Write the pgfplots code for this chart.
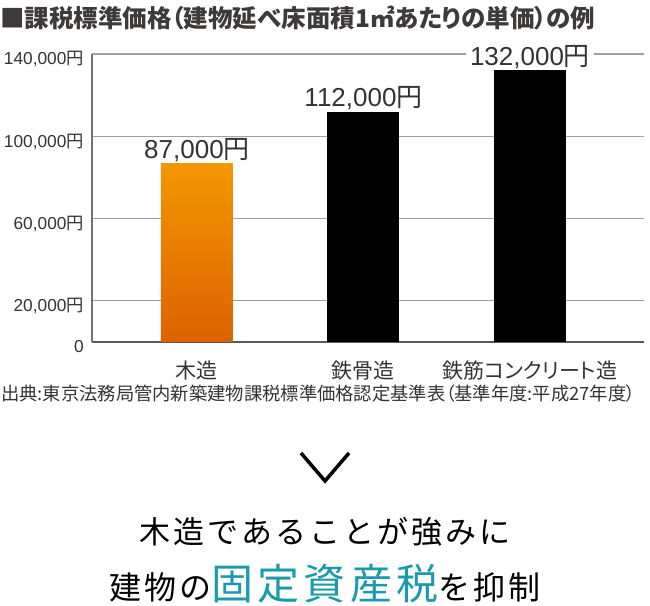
\documentclass[border=0pt]{standalone}
\usepackage{pgfplots}
\pgfplotsset{compat=1.18}
\usepackage{fontspec}
\setmainfont{Liberation Sans}
\newfontfamily\cjk{Noto Sans CJK JP}
\newfontfamily\cjkp{Noto Sans CJK JP}[RawFeature=+palt]
\newfontfamily\cjkls{Noto Sans CJK JP}[LetterSpace=10]

\definecolor{txt}{HTML}{333333}
\definecolor{ttl}{HTML}{3E3A39}
\definecolor{gridc}{HTML}{A0A0A0}
\definecolor{orgtop}{HTML}{F39800}
\definecolor{orgbot}{HTML}{DC6200}
\definecolor{tealc}{HTML}{1A9AAA}

\begin{document}
\begin{tikzpicture}
\path[use as bounding box] (0bp,0bp) rectangle (650bp,606bp);

% title
\node[anchor=base west, inner sep=0pt, text=ttl,
      font=\cjkp\bfseries\fontsize{24.5bp}{28bp}\selectfont]
  at (0bp,578bp) {■課税標準価格（建物延べ床面積1㎡あたりの単価）の例};

\begin{axis}[
    at={(92bp,264bp)}, anchor=south west,
    scale only axis, width=552bp, height=288bp,
    clip=false,
    xmin=-0.6306, xmax=2.6847,
    ymin=0, ymax=140000,
    scaled y ticks=false,
    /pgf/number format/assume math mode=true,
    axis x line*=bottom, axis y line*=left,
    x axis line style={-, draw=black!65, line width=1.5bp},
    y axis line style={-, draw=black!55, line width=1.2bp},
    tick style={draw=none},
    ymajorgrids,
    major grid style={draw=gridc, line width=1.2bp},
    ytick={0,20000,60000,100000,140000},
    yticklabels={0,{20,000\cjk 円},{60,000\cjk 円},{100,000\cjk 円},{140,000\cjk 円}},
    yticklabel style={anchor=base east, inner sep=0pt, xshift=-8bp, yshift=-11bp,
        text=txt, font=\fontsize{17.3bp}{20bp}\selectfont},
    xtick={0,1,2},
    xticklabels={木造,鉄骨造,鉄筋コンクリート造},
    xticklabel style={anchor=base, inner sep=0pt, yshift=-32bp,
        text=txt, font=\cjkp\fontsize{21bp}{24bp}\selectfont},
    ybar, bar width=72bp, bar shift=0pt,
    nodes near coords={\pgfmathprintnumber[fixed,precision=0,1000 sep={,},assume math mode=true]{\pgfplotspointmeta}{\cjk 円}},
    every node near coord/.append style={anchor=base, yshift=5bp, fill=white,
        inner xsep=4bp, inner ysep=0pt, text=txt,
        font=\fontsize{26bp}{30bp}\selectfont},
]
\addplot[draw=none, top color=orgtop, bottom color=orgbot] coordinates {(0,87000)};
\addplot[draw=none, fill=black] coordinates {(1,112000)};
\addplot[draw=none, fill=black] coordinates {(2,132000)};
\end{axis}

% source
\node[anchor=base west, inner sep=0pt, text=txt,
      font=\cjkp\fontsize{18.3bp}{21bp}\selectfont]
  at (1bp,205bp) {出典:東京法務局管内新築建物課税標準価格認定基準表（基準年度:平成27年度）};

% chevron
\draw[line width=3.5bp, line join=miter] (301bp,153bp) -- (325bp,125bp) -- (349bp,153bp);

% message
\node[anchor=base, inner sep=0pt, text=black,
      font=\cjkls\fontsize{31bp}{34bp}\selectfont]
  at (325bp,62bp) {木造であることが強みに};
\node[anchor=base, inner sep=0pt, text=black, font=\cjkls]
  at (325bp,7bp) {\fontsize{32bp}{36bp}\selectfont 建物の{\fontsize{42bp}{46bp}\selectfont\color{tealc}固定資産税}を抑制};
\end{tikzpicture}
\end{document}
